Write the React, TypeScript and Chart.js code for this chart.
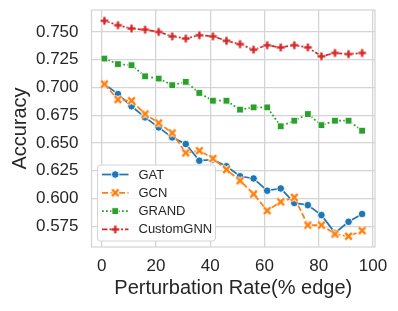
import React, { useEffect, useRef } from "react";
import { Chart, registerables } from "chart.js";

Chart.register(...registerables);

const PERTURBATION = [1, 6, 11, 16, 21, 26, 31, 36, 41, 46, 51, 56, 61, 66, 71, 76, 81, 86, 91, 96];
const GAT = [0.703, 0.694, 0.683, 0.673, 0.664, 0.655, 0.649, 0.634, 0.635, 0.629, 0.620, 0.618, 0.607, 0.609, 0.596, 0.594, 0.585, 0.569, 0.579, 0.586];
const GCN = [0.703, 0.689, 0.688, 0.676, 0.668, 0.659, 0.641, 0.643, 0.636, 0.626, 0.616, 0.604, 0.589, 0.597, 0.601, 0.576, 0.576, 0.568, 0.566, 0.571];
const GRAND = [0.726, 0.721, 0.720, 0.710, 0.708, 0.702, 0.705, 0.695, 0.688, 0.688, 0.680, 0.682, 0.682, 0.665, 0.670, 0.676, 0.666, 0.670, 0.670, 0.661];
const CUSTOM_GNN = [0.760, 0.756, 0.753, 0.752, 0.750, 0.746, 0.744, 0.747, 0.746, 0.742, 0.739, 0.734, 0.738, 0.736, 0.738, 0.736, 0.728, 0.731, 0.730, 0.731];
const SERIES_NAMES = ["GAT", "GCN", "GRAND", "CustomGNN"];
const X_LABEL = "Perturbation Rate(% edge)";
const Y_LABEL = "Accuracy";

const FONT = "'Liberation Sans', Arial, sans-serif";
const TEXT = "#262626";
const GRID = "#d4d4d4";

function makeMarker(kind: string, color: string) {
  const s = 11;
  const c = document.createElement("canvas");
  c.width = s;
  c.height = s;
  const g = c.getContext("2d")!;
  const m = s / 2;
  const r = 3.3;
  const segs =
    kind === "x"
      ? [[m - r, m - r, m + r, m + r], [m - r, m + r, m + r, m - r]]
      : [[m - r - 0.6, m, m + r + 0.6, m], [m, m - r - 0.6, m, m + r + 0.6]];
  g.lineCap = "butt";
  for (const [w, col] of [[4.4, "#ffffff"], [2.4, color]] as [number, string][]) {
    g.lineWidth = w;
    g.strokeStyle = col;
    for (const sg of segs) {
      g.beginPath();
      g.moveTo(sg[0], sg[1]);
      g.lineTo(sg[2], sg[3]);
      g.stroke();
    }
  }
  return c;
}

export default function App() {
  const ref = useRef<HTMLCanvasElement | null>(null);

  useEffect(() => {
    const colors = ["#1f77b4", "#ff7f0e", "#2ca02c", "#d62728"];
    const xImg = makeMarker("x", colors[1]);
    const pImg = makeMarker("p", colors[3]);
    const values = [GAT, GCN, GRAND, CUSTOM_GNN];
    const dashes = [[], [6, 2.5], [1.8, 2.2], [5.5, 2, 2, 2]];
    const styles: any[] = ["circle", xImg, "rect", pImg];
    const radii = [3.8, 4, 4.8, 4];

    const datasets = SERIES_NAMES.map((name, i) => ({
      label: name,
      data: PERTURBATION.map((x, j) => ({ x, y: values[i][j] })),
      borderColor: colors[i],
      backgroundColor: colors[i],
      borderWidth: 1.75,
      borderDash: dashes[i],
      pointStyle: styles[i],
      pointRadius: radii[i],
      pointBackgroundColor: colors[i],
      pointBorderColor: "#ffffff",
      pointBorderWidth: 0.9,
      tension: 0,
      order: 4 - i,
    }));

    const framePlugin = {
      id: "frame",
      beforeDatasetsDraw(chart: any) {
        const { ctx, chartArea: a } = chart;
        ctx.save();
        ctx.strokeStyle = GRID;
        ctx.lineWidth = 1.25;
        ctx.strokeRect(a.left, a.top, a.right - a.left, a.bottom - a.top);
        ctx.restore();
      },
    };

    const legendPlugin = {
      id: "insideLegend",
      afterDraw(chart: any) {
        const { ctx, chartArea: a } = chart;
        const bx = a.left + 6;
        const bw = 118;
        const bh = 76;
        const by = a.bottom - 6 - bh;
        ctx.save();
        ctx.beginPath();
        ctx.roundRect(bx, by, bw, bh, 3);
        ctx.fillStyle = "rgba(255,255,255,0.85)";
        ctx.fill();
        ctx.strokeStyle = GRID;
        ctx.lineWidth = 1;
        ctx.stroke();
        SERIES_NAMES.forEach((name, i) => {
          const cy = by + 9.5 + i * 18.3;
          const x0 = bx + 4.5;
          const x1 = bx + 31;
          const mx = (x0 + x1) / 2;
          ctx.beginPath();
          ctx.setLineDash(dashes[i]);
          ctx.strokeStyle = colors[i];
          ctx.lineWidth = 1.75;
          ctx.moveTo(x0, cy);
          ctx.lineTo(x1, cy);
          ctx.stroke();
          ctx.setLineDash([]);
          if (i === 0) {
            ctx.beginPath();
            ctx.arc(mx, cy, 3.8, 0, Math.PI * 2);
            ctx.fillStyle = colors[i];
            ctx.fill();
            ctx.strokeStyle = "#fff";
            ctx.lineWidth = 0.9;
            ctx.stroke();
          } else if (i === 2) {
            const h = 4.8 * Math.SQRT1_2;
            ctx.fillStyle = colors[i];
            ctx.fillRect(mx - h, cy - h, 2 * h, 2 * h);
            ctx.strokeStyle = "#fff";
            ctx.lineWidth = 0.9;
            ctx.strokeRect(mx - h, cy - h, 2 * h, 2 * h);
          } else {
            const img = styles[i];
            ctx.drawImage(img, mx - img.width / 2, cy - img.height / 2);
          }
          ctx.fillStyle = TEXT;
          ctx.font = `13px ${FONT}`;
          ctx.textBaseline = "middle";
          ctx.textAlign = "left";
          ctx.fillText(name, bx + 41, cy + 0.5);
        });
        ctx.restore();
      },
    };

    const chart = new Chart(ref.current!, {
      type: "line",
      data: { datasets },
      plugins: [framePlugin, legendPlugin],
      options: {
        animation: false,
        responsive: false,
        devicePixelRatio: 1,
        layout: { padding: { left: 0, top: 10, right: 23, bottom: 0 } },
        plugins: { legend: { display: false }, tooltip: { enabled: false } },
        scales: {
          x: {
            type: "linear",
            min: -3.75,
            max: 100.75,
            afterFit: (s: any) => {
              s.height = 64;
              s.paddingLeft = 0;
              s.paddingRight = 0;
            },
            ticks: {
              stepSize: 20,
              includeBounds: false,
              autoSkip: false,
              maxRotation: 0,
              padding: 9,
              color: TEXT,
              font: { family: FONT, size: 17 },
            },
            grid: { color: GRID, lineWidth: 1.25, drawTicks: false },
            border: { display: false },
            title: {
              display: true,
              text: X_LABEL,
              color: TEXT,
              font: { family: FONT, size: 20 },
              padding: { top: 0, bottom: 10.5 },
            },
          },
          y: {
            type: "linear",
            min: 0.5563,
            max: 0.7697,
            afterFit: (s: any) => {
              s.width = 91.5;
              s.paddingTop = 0;
              s.paddingBottom = 0;
            },
            ticks: {
              stepSize: 0.025,
              includeBounds: false,
              padding: 13,
              color: TEXT,
              font: { family: FONT, size: 17 },
              callback: (v: any) => Number(v).toFixed(3),
            },
            grid: { color: GRID, lineWidth: 1.25, drawTicks: false },
            border: { display: false },
            title: {
              display: true,
              text: Y_LABEL,
              color: TEXT,
              font: { family: FONT, size: 20 },
              padding: { top: 8, bottom: 0 },
            },
          },
        },
      },
    });
    return () => chart.destroy();
  }, []);

  return (
    <div style={{ position: "absolute", left: 0, top: 0, width: 398, height: 311, background: "#fff" }}>
      <canvas ref={ref} width={398} height={311} style={{ width: 398, height: 311 }} />
    </div>
  );
}
